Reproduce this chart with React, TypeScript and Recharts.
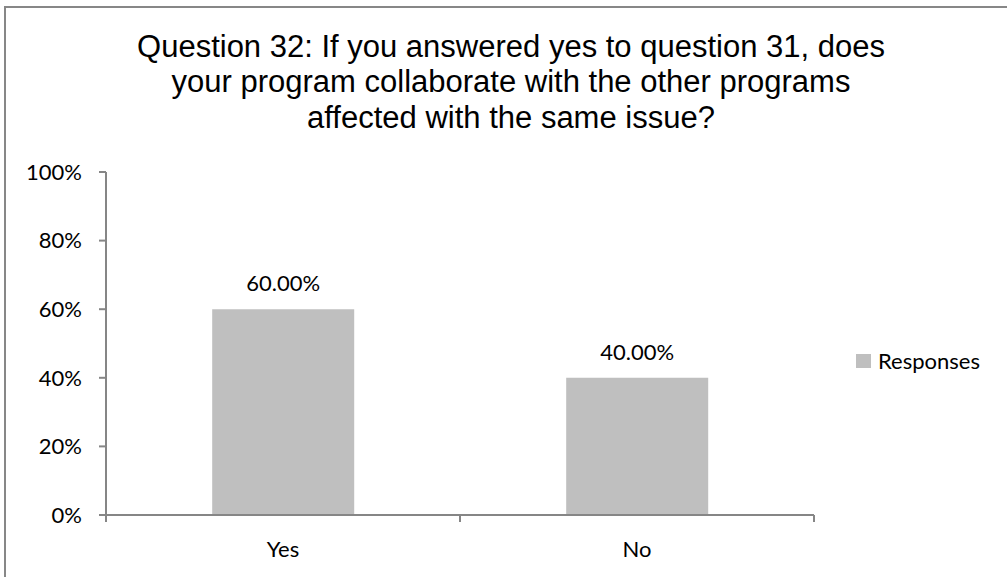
import { BarChart, Bar, XAxis, YAxis, Legend, LabelList } from 'recharts'

const categories = ['Yes', 'No']
const responses = [60, 40]
const yTicks = [0, 20, 40, 60, 80, 100]
const seriesName = 'Responses'
const titleLines = [
  'Question 32: If you answered yes to question 31, does',
  'your program collaborate with the other programs',
  'affected with the same issue?',
]

const data = categories.map((name, i) => ({ name, responses: responses[i] }))

const AXIS = '#868686'
const BAR = '#bfbfbf'
const LABEL_FONT = 'Lato, "Open Sans", sans-serif'
const LEGEND_W = 150

// category ticks sit on band edges, like the spreadsheet original
function EdgeTick(props: any) {
  const { x, y, payload, index, visibleTicksCount } = props
  const half = payload.offset || 0
  const last = index === visibleTicksCount - 1
  return (
    <g>
      <line x1={x - half} x2={x - half} y1={y} y2={y + 7} stroke={AXIS} strokeWidth={2} />
      {last && <line x1={x + half} x2={x + half} y1={y} y2={y + 7} stroke={AXIS} strokeWidth={2} />}
      <text x={x} y={y + 26} dy="0.71em" textAnchor="middle" fill="#000" fontSize={22} fontFamily={LABEL_FONT}>
        {payload.value}
      </text>
    </g>
  )
}

function LegendBox() {
  return (
    <div style={{ display: 'flex', alignItems: 'center', fontFamily: LABEL_FONT, fontSize: 22, color: '#000' }}>
      <span style={{ width: 15, height: 14, background: BAR, marginRight: 7, display: 'inline-block' }} />
      {seriesName}
    </div>
  )
}

export default function App() {
  return (
    <div style={{ position: 'absolute', left: 0, top: 0, width: 1007, height: 577, background: '#fff', overflow: 'hidden' }}>
      <div
        style={{
          position: 'absolute',
          left: 4,
          top: 6,
          width: 1010,
          height: 600,
          borderLeft: '2.5px solid #878787',
          borderTop: '2.5px solid #878787',
        }}
      />
      <div
        style={{
          position: 'absolute',
          left: 0,
          top: 28.5,
          width: 1022,
          textAlign: 'center',
          fontFamily: '"Liberation Sans", Arial, sans-serif',
          fontSize: 31,
          lineHeight: '35.5px',
          color: '#000',
        }}
      >
        {titleLines.map(l => (
          <div key={l}>{l}</div>
        ))}
      </div>
      <div style={{ position: 'absolute', left: 0, top: 0 }}>
        {/* legend width is added to the right offset by recharts, so margin.right + LEGEND_W = 193 */}
        <BarChart width={1007} height={577} data={data} margin={{ top: 172, right: 193 - LEGEND_W, left: 0, bottom: 0 }} barCategoryGap="30%">
          <XAxis
            dataKey="name"
            height={62}
            tickSize={0}
            tickMargin={0}
            tickLine={false}
            axisLine={{ stroke: AXIS, strokeWidth: 2 }}
            tick={<EdgeTick />}
            interval={0}
          />
          <YAxis
            width={106}
            domain={[0, 100]}
            ticks={yTicks}
            interval={0}
            tickFormatter={v => `${v}%`}
            tickSize={7}
            tickMargin={17}
            axisLine={{ stroke: AXIS, strokeWidth: 2 }}
            tickLine={{ stroke: AXIS, strokeWidth: 2 }}
            tick={{ fill: '#000', fontSize: 22, fontFamily: LABEL_FONT }}
          />
          <Legend
            layout="horizontal"
            verticalAlign="middle"
            align="right"
            wrapperStyle={{ left: 856, top: 347, width: LEGEND_W }}
            content={<LegendBox />}
          />
          <Bar dataKey="responses" name={seriesName} fill={BAR} isAnimationActive={false}>
            <LabelList
              dataKey="responses"
              position="top"
              offset={18}
              formatter={(v: any) => `${Number(v).toFixed(2)}%`}
              fill="#000"
              fontSize={22}
              fontFamily={LABEL_FONT}
            />
          </Bar>
        </BarChart>
      </div>
    </div>
  )
}
